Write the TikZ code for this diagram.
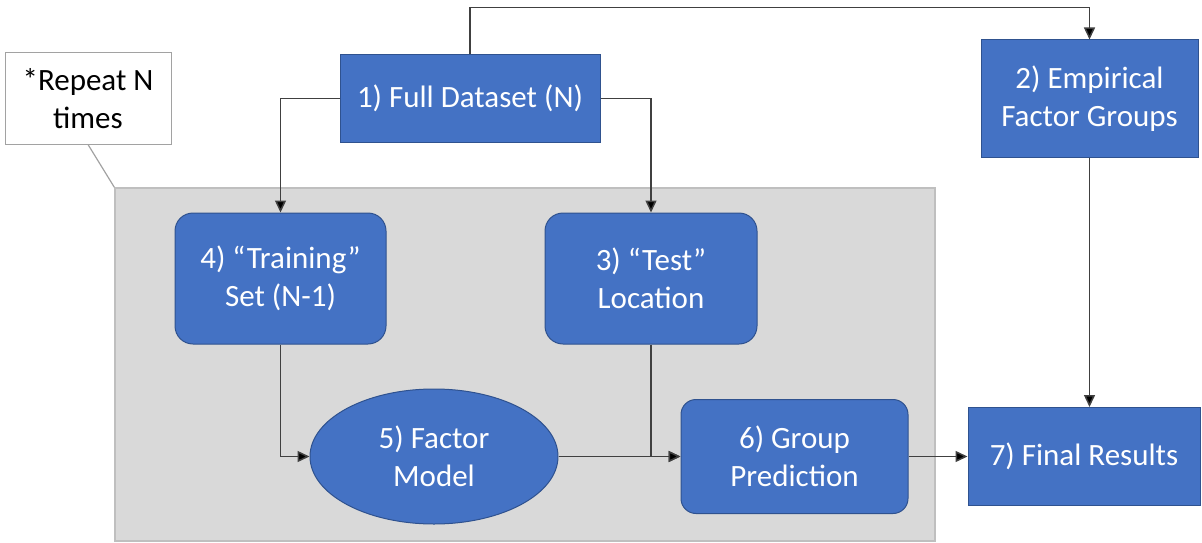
\documentclass[tikz,border=0pt]{standalone}
\usepackage{fontspec}
\setmainfont{Carlito}
\usetikzlibrary{arrows.meta,shapes.geometric}
\definecolor{boxblue}{HTML}{4472C4}
\definecolor{boxedge}{HTML}{2F528F}
\definecolor{panel}{HTML}{D9D9D9}
\definecolor{paneledge}{HTML}{BFBFBF}
\definecolor{lineg}{HTML}{404040}
\tikzset{
  lbl/.style={font=\fontsize{31}{38}\selectfont, align=center, inner sep=0pt},
  sqbox/.style={lbl, draw=boxedge, line width=1pt, fill=boxblue, text=white, rectangle},
  rbox/.style={sqbox, rounded corners=18pt},
  ebox/.style={lbl, draw=boxedge, line width=1pt, fill=boxblue, text=white, ellipse},
  conn/.style={draw=lineg, line width=1.5pt, -{Triangle[length=12pt,width=11pt,fill=black]}},
}
\begin{document}
\begin{tikzpicture}[x=1pt,y=-1pt]
\useasboundingbox (0,0) rectangle (1202,543);
% gray panel
\node[draw=paneledge, line width=1.2pt, fill=panel, minimum width=820pt, minimum height=353pt, inner sep=0pt] (panel) at (525,364.5) {};
% callout
\node[lbl, draw=paneledge!85!black, line width=1pt, fill=white, text=black, minimum width=166pt, minimum height=91pt] (call) at (88,98.5) {*Repeat N\\times};
\draw[paneledge!85!black, line width=1.2pt] (call.south) -- (panel.north west);
% nodes
\node[sqbox, minimum width=260pt, minimum height=87pt] (n1) at (470,98.5) {1) Full Dataset (N)};
\node[sqbox, minimum width=217pt, minimum height=117pt] (n2) at (1089.5,98.5) {2) Empirical\\Factor Groups};
\node[rbox, minimum width=212pt, minimum height=131pt] (n3) at (651,278.5) {3) “Test”\\Location};
\node[rbox, minimum width=211pt, minimum height=131pt] (n4) at (280.5,278.5) {4) “Training”\\Set (N-1)};
\node[ebox, minimum width=248pt, minimum height=135pt] (n5) at (434,456.5) {5) Factor\\Model};
\node[rbox, rounded corners=15pt, minimum width=227pt, minimum height=114pt] (n6) at (794.5,456.5) {6) Group\\Prediction};
\node[sqbox, minimum width=232pt, minimum height=98pt] (n7) at (1084,456.5) {7) Final Results};
% connectors
\draw[conn] (n1.north) -- ++(0,-47) -| (n2.north);
\draw[conn] (n1.west) -| (n4.north);
\draw[conn] (n1.east) -| (n3.north);
\draw[conn] (n4.south) |- (n5.west);
\draw[conn] (n3.south) |- (n6.west);
\draw[conn] (n5.east) -- (n6.west);
\draw[conn] (n6.east) -- (n7.west);
\draw[conn] (n2.south) -- (n2.south |- n7.north);
\end{tikzpicture}
\end{document}
